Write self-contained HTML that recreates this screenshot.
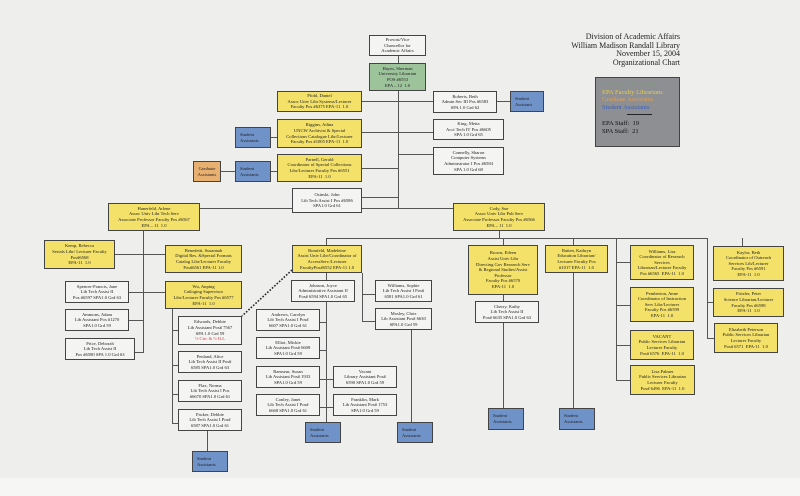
<!DOCTYPE html>
<html><head><meta charset="utf-8"><style>
body{margin:0;width:800px;height:496px;overflow:hidden;background:#eeeeec;position:relative;font-family:"Liberation Serif",serif}
.b{position:absolute;box-sizing:border-box;border:1px solid #444;background:#f4f4f2;font-size:4.6px;line-height:5.6px;text-align:center;color:#222;display:flex;flex-direction:column;justify-content:center;overflow:hidden}
.y{background:#f3e16a}.g{background:#9cc39a}.s{background:#6f93c9;text-align:left;padding-left:4px}.o{background:#e8b070}
.l{position:absolute;background:#555}
.h{height:1px}.v{width:1px}
</style></head><body>
<div style="position:absolute;left:0;top:478px;width:800px;height:18px;background:#f6f6f4"></div>
<div style="position:absolute;left:563px;top:33px;width:117px;text-align:right;font-size:8px;line-height:8.5px;color:#222">Division of Academic Affairs<br>William Madison Randall Library<br>November 15, 2004<br>Organizational Chart</div>
<div style="position:absolute;left:595px;top:77px;width:85px;height:70px;background:#8d8f92;border:1px solid #444;box-sizing:border-box;font-size:6.5px;line-height:7.5px;padding:3px 6px">
<div style="color:#7aa07a">University Librarian</div><div style="color:#e8cf4a">EPA Faculty Librarians</div><div style="color:#e0a05a">Graduate Assistants</div><div style="color:#3a5fc0">Student Assistants</div><div style="width:25px;border-top:1px solid #222;margin:3px 0 5px 25px"></div><div style="color:#111">EPA Staff:&nbsp; 19<br>SPA Staff:&nbsp; 21</div></div>

<!-- lines -->
<div class="l v" style="left:398px;top:56px;height:152px"></div>
<div class="l h" style="left:362px;top:101px;width:71px"></div>
<div class="l h" style="left:497px;top:101px;width:13px"></div>
<div class="l h" style="left:362px;top:132px;width:71px"></div>
<div class="l h" style="left:362px;top:168px;width:36px"></div>
<div class="l h" style="left:398px;top:154px;width:35px"></div>
<div class="l h" style="left:362px;top:197px;width:36px"></div>
<div class="l h" style="left:271px;top:137px;width:6px"></div>
<div class="l h" style="left:271px;top:171px;width:6px"></div>
<div class="l h" style="left:221px;top:171px;width:14px"></div>
<div class="l h" style="left:200px;top:208px;width:253px"></div>
<div class="l v" style="left:143px;top:231px;height:122px"></div>
<div class="l h" style="left:115px;top:254px;width:50px"></div>
<div class="l h" style="left:129px;top:292px;width:36px"></div>
<div class="l h" style="left:129px;top:320px;width:14px"></div>
<div class="l h" style="left:135px;top:352px;width:8px"></div>
<div class="l v" style="left:499px;top:231px;height:7px"></div>
<div class="l h" style="left:326px;top:238px;width:381px"></div>
<div class="l v" style="left:326px;top:238px;height:184px"></div>
<div class="l v" style="left:362px;top:273px;height:49px"></div>
<div class="l h" style="left:362px;top:294px;width:13px"></div>
<div class="l h" style="left:362px;top:321px;width:13px"></div>
<div class="l v" style="left:411px;top:330px;height:92px"></div>
<div class="l h" style="left:320px;top:322px;width:6px"></div>
<div class="l h" style="left:320px;top:350px;width:6px"></div>
<div class="l h" style="left:320px;top:379px;width:13px"></div>
<div class="l h" style="left:320px;top:407px;width:13px"></div>
<div class="l v" style="left:172px;top:309px;height:114px"></div>
<div class="l h" style="left:172px;top:330px;width:6px"></div>
<div class="l h" style="left:172px;top:365px;width:6px"></div>
<div class="l h" style="left:172px;top:394px;width:6px"></div>
<div class="l h" style="left:172px;top:423px;width:6px"></div>
<div class="l v" style="left:207px;top:431px;height:20px"></div>
<div class="l v" style="left:503px;top:238px;height:170px"></div>
<div class="l v" style="left:573px;top:238px;height:170px"></div>
<div class="l v" style="left:616px;top:238px;height:142px"></div>
<div class="l h" style="left:616px;top:262px;width:14px"></div>
<div class="l h" style="left:616px;top:305px;width:14px"></div>
<div class="l h" style="left:616px;top:345px;width:14px"></div>
<div class="l h" style="left:616px;top:380px;width:14px"></div>
<div class="l v" style="left:707px;top:238px;height:100px"></div>
<div class="l v" style="left:742px;top:238px;height:8px"></div>
<div class="l h" style="left:707px;top:302px;width:6px"></div>
<div class="l h" style="left:707px;top:338px;width:7px"></div>
<svg style="position:absolute;left:0;top:0" width="800" height="496"><line x1="292" y1="270" x2="242" y2="316" stroke="#222" stroke-width="1.6" stroke-dasharray="1.6,1.6"/></svg>

<!-- boxes -->
<div class="b" style="left:369px;top:35px;width:57px;height:21px">Provost/Vice<br>Chancellor for<br>Academic Affairs</div>
<div class="b g" style="left:369px;top:63px;width:57px;height:28px">Hayes, Sherman<br>University Librarian<br>POS #6553<br>EPA – 12&nbsp; 1.0</div>
<div class="b y" style="left:277px;top:91px;width:85px;height:21px">Pfohl, Daniel<br>Assoc Univ Libr Systems/Lecturer<br>Faculty Pos #6375 EPA-11&nbsp; 1.0</div>
<div class="b y" style="left:277px;top:119px;width:85px;height:29px">Riggins, Adina<br>UNCW Archivist &amp; Special<br>Collections Catalogue Libr/Lecturer<br>Faculty Pos #1005 EPA-11&nbsp; 1.0</div>
<div class="b y" style="left:277px;top:154px;width:85px;height:28px">Parnell, Gerald<br>Coordinator of Special Collections<br>Libr/Lecturer Faculty Pos #6551<br>EPA-11&nbsp; 1.0</div>
<div class="b s" style="left:235px;top:127px;width:36px;height:21px">Student<br>Assistants</div>
<div class="b s" style="left:235px;top:161px;width:36px;height:21px">Student<br>Assistants</div>
<div class="b o" style="left:193px;top:161px;width:28px;height:21px">Graduate<br>Assistants</div>
<div class="b" style="left:433px;top:91px;width:64px;height:22px">Roberts, Beth<br>Admin Sec III Pos #6583<br>SPA 1.0 Grd 62</div>
<div class="b s" style="left:510px;top:91px;width:34px;height:21px">Student<br>Assistant</div>
<div class="b" style="left:433px;top:119px;width:71px;height:21px">King, Metta<br>Acct Tech IV Pos #6605<br>SPA 1.0 Grd 65</div>
<div class="b" style="left:433px;top:147px;width:71px;height:28px">Connelly, Sharon<br>Computer Systems<br>Administrator I Pos #6584<br>SPA 1.0 Grd 68</div>
<div class="b" style="left:292px;top:188px;width:70px;height:25px">Osinski, John<br>Lib Tech Assist I Pos #6586<br>SPA1.0 Grd 61</div>
<div class="b y" style="left:108px;top:203px;width:92px;height:28px">Hanerfeld, Arlene<br>Assoc Univ Libr Tech Serv<br>Associate Professor Faculty Pos #6567<br>EPA – 11&nbsp; 1.0</div>
<div class="b y" style="left:453px;top:203px;width:92px;height:28px">Cody, Sue<br>Assoc Univ Libr Pub Serv<br>Associate Professor Faculty Pos #6566<br>EPA – 11&nbsp; 1.0</div>
<div class="b y" style="left:44px;top:240px;width:71px;height:29px">Kemp, Rebecca<br>Serials Libr/ Lecturer Faculty<br>Pos#6568<br>EPA-11&nbsp; 1.0</div>
<div class="b y" style="left:165px;top:245px;width:77px;height:28px">Benedetti, Susannah<br>Digital Res. &amp;Special Formats<br>Catalog Libr/Lecturer Faculty<br>Pos#6561 EPA-11 1.0</div>
<div class="b y" style="left:165px;top:281px;width:77px;height:28px">Wu, Anping<br>Catloging Supervisor<br>Libr/Lecturer Faculty Pos #6577<br>EPA-11&nbsp; 1.0</div>
<div class="b" style="left:65px;top:281px;width:64px;height:22px">Spencer-Francis, Jane<br>Lib Tech Assist II<br>Pos #6597 SPA1.0 Grd 63</div>
<div class="b" style="left:65px;top:309px;width:64px;height:22px">Ammons, Adam<br>Lib Assistant Pos #1270<br>SPA1.0 Grd 59</div>
<div class="b" style="left:65px;top:338px;width:70px;height:22px">Price, Deborah<br>Lib Tech Assist II<br>Pos #6580 SPA 1.0 Grd 63</div>
<div class="b" style="left:178px;top:316px;width:64px;height:29px">Edwards, Debbie<br>Lib Assistant Pos# 7567<br>SPA 1.0 Grd 59<br><span style="color:#d33">½ Circ &amp; ½ ILL</span></div>
<div class="b" style="left:178px;top:351px;width:64px;height:22px">Penland, Alice<br>Lib Tech Assist II Pos#<br>6585 SPA1.0 Grd 63</div>
<div class="b" style="left:178px;top:380px;width:64px;height:22px">Flax, Norma<br>Lib Tech Assist I Pos<br>#6670 SPA1.0 Grd 61</div>
<div class="b" style="left:178px;top:409px;width:64px;height:22px">Packer, Debbie<br>Lib Tech Assist I Pos#<br>6587 SPA1.0 Grd 61</div>
<div class="b s" style="left:192px;top:451px;width:36px;height:21px">Student<br>Assistants</div>
<div class="b y" style="left:292px;top:245px;width:70px;height:28px">Bomfeld, Madeleine<br>Assist Univ Libr/Coordinator of<br>AccessServ./Lecturer<br>FacultyPos#6552 EPA-11 1.0</div>
<div class="b" style="left:291px;top:280px;width:64px;height:22px">Johnson, Joyce<br>Administrative Assistant II<br>Pos# 6594 SPA1.0 Grd 65</div>
<div class="b" style="left:375px;top:280px;width:57px;height:22px">Williams, Sophie<br>Lib Tech Assist I Pos#<br>6581 SPA1.0 Grd 61</div>
<div class="b" style="left:375px;top:308px;width:57px;height:22px">Mosley, Chris<br>Lib Assistant Pos# 6630<br>SPA1.0 Grd 59</div>
<div class="b" style="left:256px;top:309px;width:64px;height:22px">Andrews, Carolyn<br>Lib Tech Assist I Pos#<br>6607 SPA1.0 Grd 61</div>
<div class="b" style="left:256px;top:337px;width:64px;height:22px">Elliot, Mickie<br>Lib Assistant Pos# 6608<br>SPA1.0 Grd 59</div>
<div class="b" style="left:256px;top:366px;width:64px;height:22px">Ramseur, Susan<br>Lib Assistant Pos# 1933<br>SPA1.0 Grd 59</div>
<div class="b" style="left:333px;top:366px;width:64px;height:22px">Vacant<br>Library Assistant Pos#<br>6590 SPA1.0 Grd 59</div>
<div class="b" style="left:256px;top:394px;width:64px;height:22px">Conley, Janet<br>Lib Tech Assist I Pos#<br>6668 SPA1.0 Grd 61</div>
<div class="b" style="left:333px;top:394px;width:64px;height:22px">Franklin, Mark<br>Lib Assistant Pos# 1753<br>SPA1.0 Grd 59</div>
<div class="b s" style="left:305px;top:422px;width:36px;height:21px">Student<br>Assistants</div>
<div class="b s" style="left:397px;top:422px;width:36px;height:21px">Student<br>Assistants</div>
<div class="b y" style="left:468px;top:245px;width:70px;height:50px">Brown, Eileen<br>Assist Univ Libr<br>Directing Gov Research Serv<br>&amp; Regional Studies/Assist<br>Professor<br>Faculty Pos #6570<br>EPA-11&nbsp; 1.0</div>
<div class="b" style="left:475px;top:301px;width:64px;height:22px">Cherry, Kathy<br>Lib Tech Assist II<br>Pos# 6635 SPA1.0 Grd 63</div>
<div class="b y" style="left:545px;top:245px;width:63px;height:28px">Batten, Kathryn<br>Education Librarian/<br>Lecturer Faculty Pos<br>#1017 EPA-11&nbsp; 1.0</div>
<div class="b s" style="left:488px;top:408px;width:36px;height:22px">Student<br>Assistants</div>
<div class="b s" style="left:559px;top:408px;width:36px;height:22px">Student<br>Assistants</div>
<div class="b y" style="left:630px;top:245px;width:64px;height:35px">Williams, Lisa<br>Coordinator of Research<br>Services<br>Librarian/Lecturer Faculty<br>Pos #6565&nbsp; EPA-11&nbsp; 1.0</div>
<div class="b y" style="left:630px;top:287px;width:64px;height:35px">Pemberton, Anne<br>Coordinator of Instruction<br>Serv Libr/Lecturer<br>Faculty Pos #6599<br>EPA-11&nbsp; 1.0</div>
<div class="b y" style="left:630px;top:330px;width:64px;height:30px">VACANT<br>Public Services Librarian<br>Lecturer Faculty<br>Pos# 6576&nbsp; EPA-11&nbsp; 1.0</div>
<div class="b y" style="left:630px;top:365px;width:65px;height:30px">Lisa Palmer<br>Public Services Librarian<br>Lecturer Faculty<br>Pos# 6496&nbsp; EPA-11&nbsp; 1.0</div>
<div class="b y" style="left:713px;top:246px;width:71px;height:35px">Kaylor, Beth<br>Coordinator of Outreach<br>Services Lib/Lecturer<br>Faculty Pos #6591<br>EPA-11&nbsp; 1.0</div>
<div class="b y" style="left:713px;top:288px;width:71px;height:29px">Fritzler, Peter<br>Science Librarian/Lecturer<br>Faculty Pos #6598<br>EPA-11&nbsp; 1.0</div>
<div class="b y" style="left:714px;top:323px;width:64px;height:30px">Elizabeth Peterson<br>Public Services Librarian<br>Lecturer Faculty<br>Pos# 6571&nbsp; EPA-11&nbsp; 1.0</div>
</body></html>
